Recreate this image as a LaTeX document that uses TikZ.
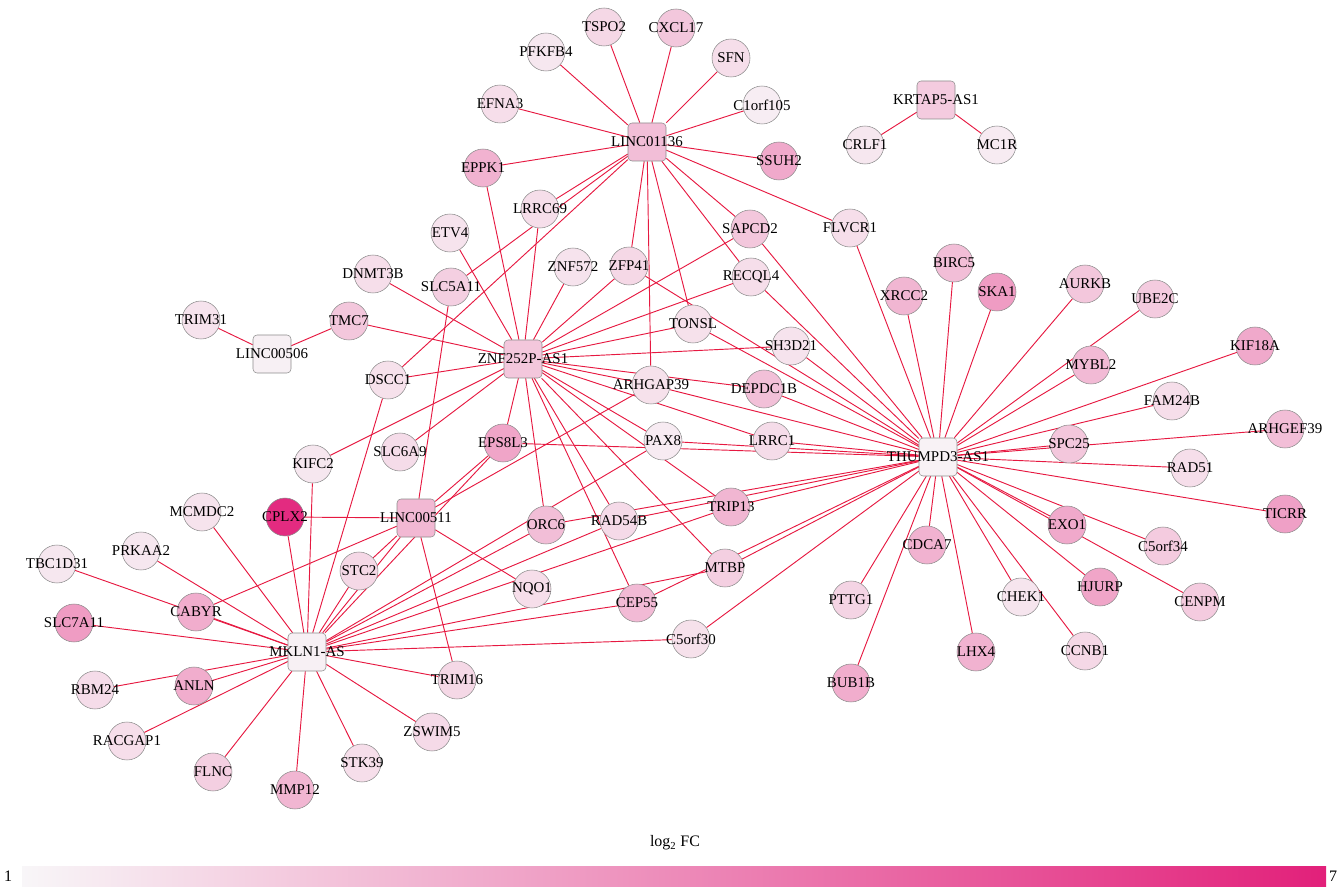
\documentclass[tikz,border=0pt]{standalone}
\usepackage{fontspec}
\setmainfont{Liberation Serif}
\usepackage{tikz}
\definecolor{lowc}{HTML}{F8F6F8}
\definecolor{hic}{HTML}{E2207A}
\definecolor{edgec}{RGB}{230,25,65}
\newcommand{\gl}[1]{\makebox[0pt]{#1}}
\pgfdeclarelayer{edges}
\pgfsetlayers{edges,main}

\begin{document}
\begin{tikzpicture}[x=0.75pt, y=-0.75pt,
  gene/.style={draw=black!45, line width=0.4pt, circle, inner sep=0pt, minimum size=28.5pt, fill=hic!#1!lowc, font=\fontsize{11.2}{12}\selectfont},
  hub/.style={draw=black!45, line width=0.4pt, rectangle, rounded corners=3pt, inner sep=0pt, minimum size=28.5pt, fill=hic!#1!lowc, font=\fontsize{11.2}{12}\selectfont},
  link/.style={draw=edgec, line width=0.7pt}]
\useasboundingbox (0,0) rectangle (1338,887);
% Nodes
\node[hub=26] (l01136) at (647,142) {\gl{LINC01136}};
\node[hub=22] (znf) at (523,359) {\gl{ZNF252P-AS1}};
\node[hub=3] (l00506) at (272,354) {\gl{LINC00506}};
\node[hub=29] (l00511) at (416,518) {\gl{LINC00511}};
\node[hub=3] (mkln) at (307,652) {\gl{MKLN1-AS}};
\node[hub=2] (thumpd) at (938,457) {\gl{THUMPD3-AS1}};
\node[hub=20] (krtap) at (936,100) {\gl{KRTAP5-AS1}};
\node[gene=14] (tspo) at (604,27) {\gl{TSPO2}};
\node[gene=22] (cxcl) at (676,28) {\gl{CXCL17}};
\node[gene=7] (pfkfb) at (546,52) {\gl{PFKFB4}};
\node[gene=11] (sfn) at (731,58) {\gl{SFN}};
\node[gene=11] (efna) at (500,104) {\gl{EFNA3}};
\node[gene=4] (corf105) at (762,105) {\gl{C1orf105}};
\node[gene=32] (eppk) at (483,168) {\gl{EPPK1}};
\node[gene=36] (ssuh) at (779,161) {\gl{SSUH2}};
\node[gene=7] (crlf) at (865,145) {\gl{CRLF1}};
\node[gene=5] (mcr) at (997,145) {\gl{MC1R}};
\node[gene=11] (lrrc69) at (540,209) {\gl{LRRC69}};
\node[gene=9] (etv) at (450,233) {\gl{ETV4}};
\node[gene=22] (sapcd) at (750,229) {\gl{SAPCD2}};
\node[gene=11] (flvcr) at (850,228) {\gl{FLVCR1}};
\node[gene=9] (znf572) at (573,267) {\gl{ZNF572}};
\node[gene=14] (zfp) at (629,266) {\gl{ZFP41}};
\node[gene=11] (recql) at (751,277) {\gl{RECQL4}};
\node[gene=18] (slc5) at (451,287) {\gl{SLC5A11}};
\node[gene=11] (dnmt) at (373,274) {\gl{DNMT3B}};
\node[gene=9] (trim31) at (201,320) {\gl{TRIM31}};
\node[gene=22] (tmc) at (349,321) {\gl{TMC7}};
\node[gene=10] (tonsl) at (693,324) {\gl{TONSL}};
\node[gene=9] (sh3d) at (791,346) {\gl{SH3D21}};
\node[gene=26] (birc) at (954,263) {\gl{BIRC5}};
\node[gene=30] (xrcc) at (904,296) {\gl{XRCC2}};
\node[gene=42] (ska) at (997,292) {\gl{SKA1}};
\node[gene=22] (aurkb) at (1085,284) {\gl{AURKB}};
\node[gene=20] (ube) at (1155,299) {\gl{UBE2C}};
\node[gene=36] (kif18) at (1255,346) {\gl{KIF18A}};
\node[gene=28] (mybl) at (1091,365) {\gl{MYBL2}};
\node[gene=11] (fam) at (1172,401) {\gl{FAM24B}};
\node[gene=26] (arhgef) at (1285,429) {\gl{ARHGEF39}};
\node[gene=22] (spc) at (1069,444) {\gl{SPC25}};
\node[gene=11] (rad51) at (1190,468) {\gl{RAD51}};
\node[gene=40] (ticrr) at (1285,514) {\gl{TICRR}};
\node[gene=10] (dscc) at (388,380) {\gl{DSCC1}};
\node[gene=10] (arhgap) at (651,385) {\gl{ARHGAP39}};
\node[gene=25] (depdc) at (764,389) {\gl{DEPDC1B}};
\node[gene=5] (pax) at (663,441) {\gl{PAX8}};
\node[gene=12] (lrrc1) at (772,441) {\gl{LRRC1}};
\node[gene=38] (eps) at (503,443) {\gl{EPS8L3}};
\node[gene=12] (slc6) at (400,452) {\gl{SLC6A9}};
\node[gene=7] (kifc) at (313,464) {\gl{KIFC2}};
\node[gene=30] (trip) at (731,507) {\gl{TRIP13}};
\node[gene=95] (cplx) at (285,517) {\gl{CPLX2}};
\node[gene=9] (mcmdc) at (202,512) {\gl{MCMDC2}};
\node[gene=26] (orc) at (546,525) {\gl{ORC6}};
\node[gene=13] (rad54) at (619,521) {\gl{RAD54B}};
\node[gene=36] (exo) at (1067,525) {\gl{EXO1}};
\node[gene=20] (c5orf34) at (1163,546) {\gl{C5orf34}};
\node[gene=32] (cdca) at (927,545) {\gl{CDCA7}};
\node[gene=7] (prkaa) at (141,551) {\gl{PRKAA2}};
\node[gene=7] (tbc) at (57,564) {\gl{TBC1D31}};
\node[gene=14] (stc) at (359,571) {\gl{STC2}};
\node[gene=18] (mtbp) at (725,568) {\gl{MTBP}};
\node[gene=11] (nqo) at (532,589) {\gl{NQO1}};
\node[gene=28] (cep) at (637,603) {\gl{CEP55}};
\node[gene=16] (pttg) at (851,600) {\gl{PTTG1}};
\node[gene=8] (chek) at (1021,597) {\gl{CHEK1}};
\node[gene=38] (hjurp) at (1100,587) {\gl{HJURP}};
\node[gene=20] (cenpm) at (1200,602) {\gl{CENPM}};
\node[gene=34] (cabyr) at (196,612) {\gl{CABYR}};
\node[gene=42] (slc7) at (74,623) {\gl{SLC7A11}};
\node[gene=10] (c5orf30) at (691,639) {\gl{C5orf30}};
\node[gene=32] (lhx) at (976,652) {\gl{LHX4}};
\node[gene=14] (ccnb) at (1085,651) {\gl{CCNB1}};
\node[gene=34] (bub) at (851,683) {\gl{BUB1B}};
\node[gene=14] (trim16) at (457,680) {\gl{TRIM16}};
\node[gene=34] (anln) at (194,686) {\gl{ANLN}};
\node[gene=12] (rbm) at (95,690) {\gl{RBM24}};
\node[gene=11] (racgap) at (127,741) {\gl{RACGAP1}};
\node[gene=13] (zswim) at (432,732) {\gl{ZSWIM5}};
\node[gene=11] (stk) at (362,763) {\gl{STK39}};
\node[gene=18] (flnc) at (213,772) {\gl{FLNC}};
\node[gene=30] (mmp) at (295,790) {\gl{MMP12}};
% Edges
\begin{pgfonlayer}{edges}
\draw[link] (l01136) -- (tspo);
\draw[link] (l01136) -- (cxcl);
\draw[link] (l01136) -- (pfkfb);
\draw[link] (l01136) -- (sfn);
\draw[link] (l01136) -- (efna);
\draw[link] (l01136) -- (corf105);
\draw[link] (l01136) -- (eppk);
\draw[link] (l01136) -- (ssuh);
\draw[link] (l01136) -- (lrrc69);
\draw[link] (l01136) -- (slc5);
\draw[link] (l01136) -- (dscc);
\draw[link] (l01136) -- (zfp);
\draw[link] (l01136) -- (arhgap);
\draw[link] (l01136) -- (tonsl);
\draw[link] (l01136) -- (recql);
\draw[link] (l01136) -- (sapcd);
\draw[link] (l01136) -- (flvcr);
\draw[link] (krtap) -- (crlf);
\draw[link] (krtap) -- (mcr);
\draw[link] (l00506) -- (trim31);
\draw[link] (l00506) -- (tmc);
\draw[link] (znf) -- (eppk);
\draw[link] (znf) -- (lrrc69);
\draw[link] (znf) -- (etv);
\draw[link] (znf) -- (dnmt);
\draw[link] (znf) -- (tmc);
\draw[link] (znf) -- (znf572);
\draw[link] (znf) -- (zfp);
\draw[link] (znf) -- (sapcd);
\draw[link] (znf) -- (recql);
\draw[link] (znf) -- (tonsl);
\draw[link] (znf) -- (sh3d);
\draw[link] (znf) -- (arhgap);
\draw[link] (znf) -- (depdc);
\draw[link] (znf) -- (lrrc1);
\draw[link] (znf) -- (dscc);
\draw[link] (znf) -- (kifc);
\draw[link] (znf) -- (slc6);
\draw[link] (znf) -- (eps);
\draw[link] (znf) -- (orc);
\draw[link] (znf) -- (rad54);
\draw[link] (znf) -- (cep);
\draw[link] (znf) -- (mtbp);
\draw[link] (znf) -- (pax);
\draw[link] (znf) -- (trip);
\draw[link] (l00511) -- (cplx);
\draw[link] (l00511) -- (slc5);
\draw[link] (l00511) -- (eps);
\draw[link] (l00511) -- (arhgap);
\draw[link] (l00511) -- (cabyr);
\draw[link] (l00511) -- (stc);
\draw[link] (l00511) -- (trim16);
\draw[link] (l00511) -- (nqo);
\draw[link] (mkln) -- (l00511);
\draw[link] (mkln) -- (mcmdc);
\draw[link] (mkln) -- (cplx);
\draw[link] (mkln) -- (kifc);
\draw[link] (mkln) -- (dscc);
\draw[link] (mkln) -- (stc);
\draw[link] (mkln) -- (tbc);
\draw[link] (mkln) -- (prkaa);
\draw[link] (mkln) -- (cabyr);
\draw[link] (mkln) -- (slc7);
\draw[link] (mkln) -- (rbm);
\draw[link] (mkln) -- (anln);
\draw[link] (mkln) -- (racgap);
\draw[link] (mkln) -- (flnc);
\draw[link] (mkln) -- (mmp);
\draw[link] (mkln) -- (stk);
\draw[link] (mkln) -- (zswim);
\draw[link] (mkln) -- (trim16);
\draw[link] (mkln) -- (c5orf30);
\draw[link] (mkln) -- (mtbp);
\draw[link] (mkln) -- (cep);
\draw[link] (mkln) -- (trip);
\draw[link] (mkln) -- (rad54);
\draw[link] (mkln) -- (orc);
\draw[link] (mkln) -- (pax);
\draw[link] (mkln) -- (eps);
\draw[link] (thumpd) -- (flvcr);
\draw[link] (thumpd) -- (sapcd);
\draw[link] (thumpd) -- (recql);
\draw[link] (thumpd) -- (sh3d);
\draw[link] (thumpd) -- (tonsl);
\draw[link] (thumpd) -- (zfp);
\draw[link] (thumpd) -- (depdc);
\draw[link] (thumpd) -- (arhgap);
\draw[link] (thumpd) -- (lrrc1);
\draw[link] (thumpd) -- (pax);
\draw[link] (thumpd) -- (eps);
\draw[link] (thumpd) -- (orc);
\draw[link] (thumpd) -- (rad54);
\draw[link] (thumpd) -- (trip);
\draw[link] (thumpd) -- (mtbp);
\draw[link] (thumpd) -- (cep);
\draw[link] (thumpd) -- (c5orf30);
\draw[link] (thumpd) -- (xrcc);
\draw[link] (thumpd) -- (birc);
\draw[link] (thumpd) -- (ska);
\draw[link] (thumpd) -- (aurkb);
\draw[link] (thumpd) -- (mybl);
\draw[link] (thumpd) -- (ube);
\draw[link] (thumpd) -- (kif18);
\draw[link] (thumpd) -- (fam);
\draw[link] (thumpd) -- (spc);
\draw[link] (thumpd) -- (arhgef);
\draw[link] (thumpd) -- (rad51);
\draw[link] (thumpd) -- (ticrr);
\draw[link] (thumpd) -- (exo);
\draw[link] (thumpd) -- (c5orf34);
\draw[link] (thumpd) -- (cenpm);
\draw[link] (thumpd) -- (hjurp);
\draw[link] (thumpd) -- (chek);
\draw[link] (thumpd) -- (ccnb);
\draw[link] (thumpd) -- (lhx);
\draw[link] (thumpd) -- (cdca);
\draw[link] (thumpd) -- (pttg);
\draw[link] (thumpd) -- (bub);
\end{pgfonlayer}
% Colour bar
\node[font=\fontsize{12}{14}\selectfont] (fclabel) at (675,843) {log\textsubscript{2} FC};
\shade[left color=lowc, right color=hic] (22,866) rectangle (1326,887);
\node[font=\fontsize{12}{14}\selectfont] (barlow) at (8,876) {1};
\node[font=\fontsize{12}{14}\selectfont, inner sep=1pt] (barhigh) at (1333,876) {7};
\end{tikzpicture}
\end{document}
